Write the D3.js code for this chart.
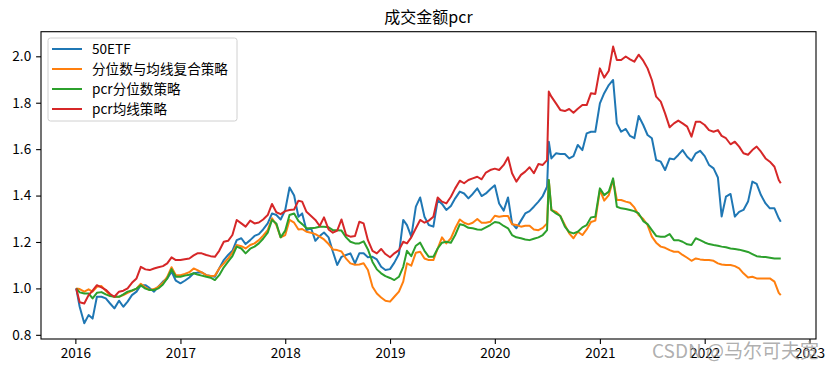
<!DOCTYPE html>
<html>
<head>
<meta charset="utf-8">
<script src="https://cdnjs.cloudflare.com/ajax/libs/d3/7.8.5/d3.min.js"></script>
<style>
  body { margin: 0; background: #fff; }
  svg { display: block; font-family: "Noto Sans CJK SC", sans-serif; }
</style>
</head>
<body>
<div class="graphHold"></div>
<script>
/*************/
/*** DATA ****/
/*************/
let dates = [
  '2016-01-04', '2016-01-16', '2016-02-01', '2016-02-16', '2016-03-01', '2016-03-16', '2016-04-01', '2016-04-16',
  '2016-05-01', '2016-05-16', '2016-06-01', '2016-06-16', '2016-07-01', '2016-07-16', '2016-08-01', '2016-08-16',
  '2016-09-01', '2016-09-16', '2016-10-01', '2016-10-16', '2016-11-01', '2016-11-16', '2016-12-01', '2016-12-16',
  '2017-01-01', '2017-01-16', '2017-02-01', '2017-02-16', '2017-03-01', '2017-03-16', '2017-04-01', '2017-04-16',
  '2017-05-01', '2017-05-16', '2017-06-01', '2017-06-16', '2017-07-01', '2017-07-16', '2017-08-01', '2017-08-16',
  '2017-09-01', '2017-09-16', '2017-10-01', '2017-10-16', '2017-11-01', '2017-11-16', '2017-12-01', '2017-12-16',
  '2018-01-01', '2018-01-16', '2018-02-01', '2018-02-16', '2018-03-01', '2018-03-16', '2018-04-01', '2018-04-16',
  '2018-05-01', '2018-05-16', '2018-06-01', '2018-06-16', '2018-07-01', '2018-07-16', '2018-08-01', '2018-08-16',
  '2018-09-01', '2018-09-16', '2018-10-01', '2018-10-16', '2018-11-01', '2018-11-16', '2018-12-01', '2018-12-16',
  '2019-01-01', '2019-01-16', '2019-02-01', '2019-02-16', '2019-03-01', '2019-03-16', '2019-04-01', '2019-04-16',
  '2019-05-01', '2019-05-16', '2019-06-01', '2019-06-16', '2019-07-01', '2019-07-16', '2019-08-01', '2019-08-16',
  '2019-09-01', '2019-09-16', '2019-10-01', '2019-10-16', '2019-11-01', '2019-11-16', '2019-12-01', '2019-12-16',
  '2020-01-01', '2020-01-16', '2020-02-01', '2020-02-16', '2020-03-01', '2020-03-16', '2020-04-01', '2020-04-16',
  '2020-05-01', '2020-05-16', '2020-06-01', '2020-06-16', '2020-07-01', '2020-07-07', '2020-07-16', '2020-08-01',
  '2020-08-16', '2020-09-01', '2020-09-16', '2020-10-01', '2020-10-16', '2020-11-01', '2020-11-16', '2020-12-01',
  '2020-12-16', '2021-01-01', '2021-01-16', '2021-02-01', '2021-02-16', '2021-03-01', '2021-03-16', '2021-04-01',
  '2021-04-16', '2021-05-01', '2021-05-16', '2021-06-01', '2021-06-16', '2021-07-01', '2021-07-16', '2021-08-01',
  '2021-08-16', '2021-09-01', '2021-09-16', '2021-10-01', '2021-10-16', '2021-11-01', '2021-11-16', '2021-12-01',
  '2021-12-16', '2022-01-01', '2022-01-16', '2022-02-01', '2022-02-16', '2022-03-01', '2022-03-16', '2022-04-01',
  '2022-04-16', '2022-05-01', '2022-05-16', '2022-06-01', '2022-06-16', '2022-07-01', '2022-07-16', '2022-08-01',
  '2022-08-16', '2022-09-01', '2022-09-16', '2022-09-23'
];

/* 50ETF */
let etf = [
  1.0, 0.921, 0.85, 0.885, 0.87, 0.964, 0.964, 0.957, 0.935, 0.914, 0.947, 0.921, 0.943, 0.971, 0.986, 1.014,
  1.014, 1.001, 0.986, 1.007, 1.029, 1.043, 1.072, 1.033, 1.022, 1.033, 1.047, 1.065, 1.068, 1.069, 1.057, 1.053,
  1.05, 1.086, 1.122, 1.144, 1.162, 1.208, 1.216, 1.191, 1.208, 1.226, 1.234, 1.254, 1.28, 1.323, 1.316, 1.297,
  1.338, 1.435, 1.40, 1.309, 1.323, 1.251, 1.259, 1.205, 1.226, 1.241, 1.22, 1.158, 1.101, 1.136, 1.144, 1.151,
  1.108, 1.151, 1.151, 1.134, 1.136, 1.125, 1.093, 1.079, 1.083, 1.111, 1.148, 1.295, 1.273, 1.223, 1.352, 1.392,
  1.309, 1.273, 1.266, 1.381, 1.364, 1.338, 1.355, 1.388, 1.417, 1.409, 1.388, 1.407, 1.431, 1.398, 1.409, 1.427,
  1.444, 1.366, 1.335, 1.392, 1.28, 1.259,
  1.292, 1.323, 1.333, 1.352, 1.374, 1.398, 1.438, 1.632, 1.56, 1.582, 1.579, 1.579, 1.56, 1.57, 1.618, 1.596,
  1.668, 1.675, 1.675, 1.797, 1.841, 1.876, 1.898, 1.711, 1.675, 1.687, 1.657, 1.647, 1.743, 1.704, 1.661, 1.647,
  1.553, 1.546, 1.51, 1.56, 1.556, 1.575, 1.596, 1.567, 1.55, 1.582, 1.593, 1.57, 1.532, 1.517, 1.478, 1.31,
  1.395, 1.407, 1.309, 1.33, 1.338, 1.374, 1.46, 1.45, 1.402, 1.366, 1.345, 1.345, 1.302, 1.287
];

/* 分位数与均线复合策略 */
let composite = [
  1.0, 0.997, 0.986, 0.996, 0.986, 1.007, 1.01, 0.99, 0.971, 0.964, 0.964, 0.971, 0.981, 0.989, 0.999, 1.02,
  1.004, 0.993, 0.997, 1.007, 1.024, 1.05, 1.091, 1.057, 1.057, 1.062, 1.07, 1.086, 1.079, 1.069, 1.057, 1.053,
  1.055, 1.086, 1.108, 1.129, 1.154, 1.187, 1.182, 1.172, 1.187, 1.194, 1.208, 1.227, 1.251, 1.302, 1.273, 1.22,
  1.23, 1.295, 1.283, 1.254, 1.256, 1.244, 1.24, 1.234, 1.223, 1.211, 1.191, 1.168, 1.165, 1.159, 1.128, 1.108,
  1.102, 1.103, 1.108, 1.079, 1.007, 0.978, 0.961, 0.947, 0.943, 0.964, 0.986, 1.029, 1.108, 1.098, 1.154, 1.158,
  1.129, 1.122, 1.122, 1.172, 1.22, 1.194, 1.216, 1.259, 1.297, 1.283, 1.276, 1.283, 1.299, 1.283, 1.283, 1.287,
  1.313, 1.309, 1.312, 1.312, 1.276, 1.273,
  1.266, 1.27, 1.27, 1.254, 1.251, 1.261, 1.28, 1.467, 1.338, 1.33, 1.312, 1.273, 1.237, 1.216, 1.244, 1.23,
  1.254, 1.286, 1.292, 1.424, 1.378, 1.402, 1.467, 1.381, 1.381, 1.374, 1.369, 1.349, 1.316, 1.299, 1.273, 1.223,
  1.197, 1.18, 1.175, 1.165, 1.158, 1.158, 1.144, 1.132, 1.119, 1.129, 1.125, 1.122, 1.122, 1.119, 1.108, 1.103,
  1.101, 1.101, 1.096, 1.086, 1.065, 1.047, 1.05, 1.043, 1.043, 1.043, 1.043, 1.029, 0.981, 0.971
];

/* pcr分位数策略 */
let quantile = [
  1.0, 0.983, 0.978, 0.978, 0.957, 0.981, 0.984, 0.974, 0.967, 0.964, 0.964, 0.974, 0.986, 0.991, 0.999, 1.013,
  0.999, 0.993, 0.993, 1.0, 1.017, 1.043, 1.083, 1.05, 1.05, 1.055, 1.059, 1.065, 1.06, 1.055, 1.05, 1.046,
  1.036, 1.057, 1.091, 1.115, 1.139, 1.18, 1.172, 1.151, 1.171, 1.18, 1.194, 1.214, 1.24, 1.295, 1.28, 1.22,
  1.249, 1.316, 1.323, 1.29, 1.277, 1.259, 1.259, 1.261, 1.266, 1.266, 1.263, 1.251, 1.251, 1.249, 1.22, 1.201,
  1.194, 1.194, 1.203, 1.168, 1.114, 1.082, 1.065, 1.053, 1.045, 1.036, 1.05, 1.093, 1.162, 1.139, 1.184, 1.197,
  1.162, 1.136, 1.136, 1.172, 1.197, 1.201, 1.197, 1.23, 1.276, 1.272, 1.261, 1.259, 1.254, 1.253, 1.263, 1.273,
  1.286, 1.283, 1.269, 1.259, 1.23, 1.22,
  1.216, 1.211, 1.208, 1.214, 1.22, 1.23, 1.251, 1.467, 1.338, 1.323, 1.312, 1.266, 1.243, 1.237, 1.244, 1.263,
  1.273, 1.306, 1.309, 1.431, 1.402, 1.417, 1.474, 1.352, 1.345, 1.342, 1.338, 1.333, 1.323, 1.29, 1.277, 1.251,
  1.226, 1.223, 1.223, 1.234, 1.208, 1.208, 1.201, 1.19, 1.187, 1.216, 1.208, 1.198, 1.191, 1.187, 1.184, 1.18,
  1.177, 1.172, 1.17, 1.167, 1.162, 1.157, 1.148, 1.139, 1.136, 1.135, 1.132, 1.129, 1.129, 1.129
];

/* pcr均线策略 */
let movingAvg = [
  1.0, 0.94, 0.935, 0.971, 0.99, 1.014, 1.004, 0.994, 0.976, 0.964, 0.986, 0.99, 1.0, 1.024, 1.043, 1.093,
  1.082, 1.079, 1.086, 1.091, 1.096, 1.108, 1.134, 1.122, 1.122, 1.126, 1.129, 1.142, 1.151, 1.151, 1.144, 1.139,
  1.136, 1.162, 1.201, 1.205, 1.23, 1.295, 1.28, 1.266, 1.292, 1.28, 1.284, 1.297, 1.316, 1.364, 1.328, 1.32,
  1.333, 1.338, 1.34, 1.378, 1.374, 1.33, 1.312, 1.295, 1.269, 1.306, 1.254, 1.24, 1.249, 1.297, 1.23, 1.223,
  1.226, 1.287, 1.28, 1.208, 1.162, 1.151, 1.17, 1.148, 1.134, 1.151, 1.165, 1.201, 1.194, 1.22, 1.259, 1.295,
  1.283, 1.292, 1.309, 1.392, 1.374, 1.366, 1.395, 1.431, 1.464, 1.453, 1.467, 1.474, 1.481, 1.47, 1.499, 1.51,
  1.516, 1.51, 1.532, 1.565, 1.496, 1.46,
  1.489, 1.503, 1.522, 1.496, 1.536, 1.532, 1.553, 1.848, 1.826, 1.797, 1.769, 1.764, 1.773, 1.757, 1.774, 1.79,
  1.79, 1.841, 1.838, 1.948, 1.908, 1.938, 2.042, 1.984, 1.984, 1.999, 1.987, 1.977, 2.007, 1.981, 1.948, 1.898,
  1.826, 1.805, 1.754, 1.694, 1.711, 1.723, 1.711, 1.697, 1.654, 1.718, 1.718, 1.704, 1.682, 1.675, 1.682, 1.657,
  1.647, 1.621, 1.632, 1.611, 1.582, 1.576, 1.596, 1.611, 1.589, 1.56, 1.546, 1.524, 1.467, 1.453
];

let seriesNames = ['50ETF', '分位数与均线复合策略', 'pcr分位数策略', 'pcr均线策略'];
let seriesColors = ['#1f77b4', '#ff7f0e', '#2ca02c', '#d62728'];
let yTicks = [0.8, 1.0, 1.2, 1.4, 1.6, 1.8, 2.0];
let xTicks = ['2016', '2017', '2018', '2019', '2020', '2021', '2022', '2023'];
let chartTitle = '成交金额pcr';
let watermark = 'CSDN @马尔可夫宽';

/*************/
/*** GRAPH ***/
/*************/
let width = 831,
    height = 371,
    plotLeft = 41,
    plotRight = 816,
    plotTop = 31.7,
    plotBottom = 339,
    fontSize = 13.6,
    tickLen = 4.9;

let svgContainer = d3.select('.graphHold').
append('svg').
attr('width', width).
attr('height', height);

let parse = d3.timeParse('%Y-%m-%d');
let dateObjs = dates.map(parse);

/* marge de 5% comme matplotlib */
let t0 = +dateObjs[0],
    t1 = +dateObjs[dateObjs.length - 1],
    pad = (t1 - t0) * 0.05;

let xScale = d3.scaleTime().
domain([new Date(t0 - pad), new Date(t1 + pad)]).
range([plotLeft, plotRight]);

let yScale = d3.scaleLinear().
domain([0.782, 2.106]).
range([plotBottom, plotTop]);

/* AXE X */
let xAxis = d3.axisBottom(xScale).
tickValues(xTicks.map((y) => new Date(+y, 0, 1))).
tickFormat(d3.timeFormat('%Y')).
tickSize(tickLen).
tickPadding(4.9);

let xAxisGroup = svgContainer.append('g').
attr('transform', 'translate(0,' + plotBottom + ')').
call(xAxis);

/* AXE Y */
let yAxis = d3.axisLeft(yScale).
tickValues(yTicks).
tickFormat((d) => d.toFixed(1)).
tickSize(tickLen).
tickPadding(4.9);

let yAxisGroup = svgContainer.append('g').
attr('transform', 'translate(' + plotLeft + ',0)').
call(yAxis);

[xAxisGroup, yAxisGroup].forEach((g) => {
  g.select('.domain').remove();
  g.selectAll('.tick line').attr('stroke', '#000').attr('stroke-width', 1.1);
  g.selectAll('.tick text').
  attr('fill', '#000').
  style('font-family', '"Noto Sans CJK SC", sans-serif').
  style('font-size', fontSize + 'px');
});

/* courbes */
let allSeries = [etf, composite, quantile, movingAvg];
let line = d3.line().
x((d, i) => xScale(dateObjs[i])).
y((d) => yScale(d));

svgContainer.append('g').
selectAll('path').
data(allSeries).
enter().
append('path').
attr('d', line).
attr('fill', 'none').
attr('stroke', (d, i) => seriesColors[i]).
attr('stroke-width', 2).
attr('stroke-linejoin', 'round');

/* cadre */
svgContainer.append('rect').
attr('x', plotLeft).
attr('y', plotTop).
attr('width', plotRight - plotLeft).
attr('height', plotBottom - plotTop).
attr('fill', 'none').
attr('stroke', '#000').
attr('stroke-width', 1.1);

/* titre */
svgContainer.append('text').
attr('x', (plotLeft + plotRight) / 2).
attr('y', 23).
attr('text-anchor', 'middle').
style('font-size', '16px').
text(chartTitle);

/* légende */
let legend = svgContainer.append('g').
attr('transform', 'translate(48,38)');

legend.append('rect').
attr('width', 189).
attr('height', 83).
attr('rx', 2.5).
attr('fill', '#fff').
attr('fill-opacity', 0.8).
attr('stroke', '#d0d0d0').
attr('stroke-width', 1);

seriesNames.forEach((name, i) => {
  let row = legend.append('g').
  attr('transform', 'translate(0,' + (11 + i * 20) + ')');
  row.append('line').
  attr('x1', 4).
  attr('x2', 34).
  attr('stroke', seriesColors[i]).
  attr('stroke-width', 2);
  row.append('text').
  attr('x', 44).
  attr('y', 5).
  style('font-size', fontSize + 'px').
  text(name);
});

/* filigrane */
svgContainer.append('text').
attr('x', 819).
attr('y', 358).
attr('text-anchor', 'end').
attr('fill', '#9a9a9a').
attr('fill-opacity', 0.8).
style('font-size', '19px').
text(watermark);
</script>
</body>
</html>
